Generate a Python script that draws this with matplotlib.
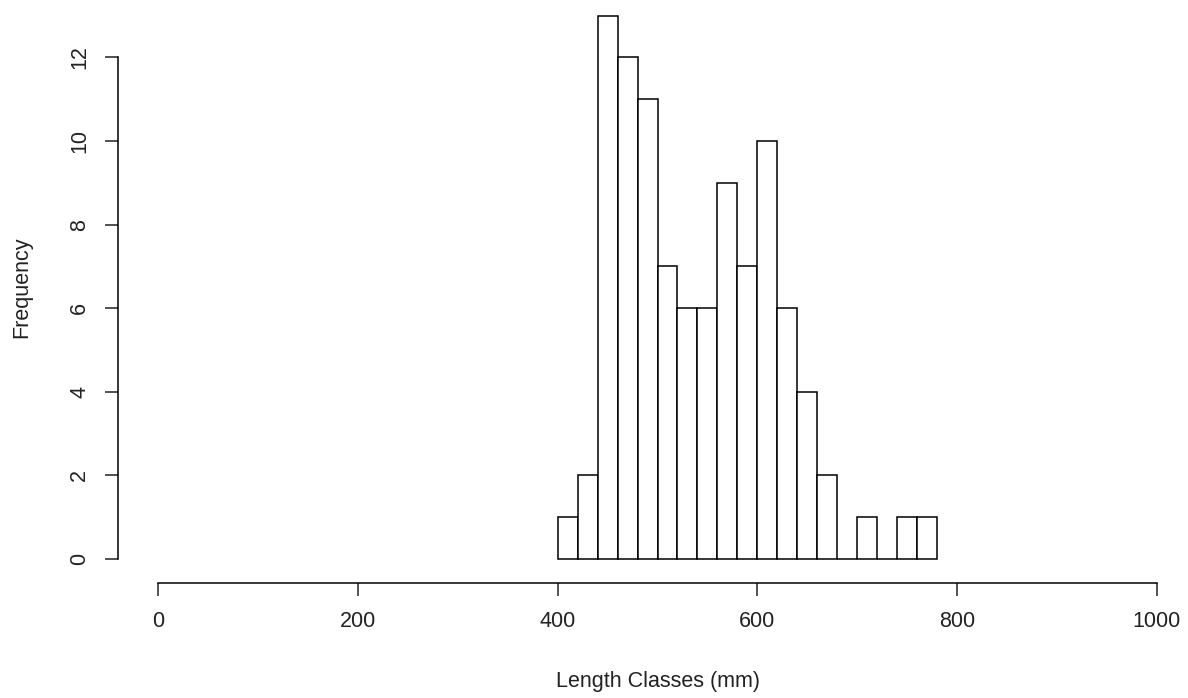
import matplotlib
matplotlib.use('Agg')
import matplotlib.pyplot as plt

# length classes (mm), 20 mm bins, and counts per class
bin_edges = list(range(400, 800, 20))
counts = [1, 2, 13, 12, 11, 7, 6, 6, 9, 7, 10, 6, 4, 2, 0, 1, 0, 1, 1]
x_ticks = [0, 200, 400, 600, 800, 1000]
y_ticks = [0, 2, 4, 6, 8, 10, 12]

plt.rcParams['font.family'] = ['Liberation Sans', 'DejaVu Sans']

W, H = 1188, 698
fig = plt.figure(figsize=(W / 100, H / 100), dpi=100)

# R-style plot region: left edge is the y axis line, bottom edge the x axis line
left_px, bottom_px = 118, 583
ax = fig.add_axes([left_px / W, (H - bottom_px) / H, (W - left_px) / W, bottom_px / H])

ax.bar(bin_edges[:-1], counts, width=20, align='edge',
       color='white', edgecolor='black', linewidth=1.1)

# pixel scale: x 0 at 158 px, ~1 px per mm; y 0 at 559 px, 41.8 px per count
ax.set_xlim((left_px - 158) / 0.999, (W - 158) / 0.999)
ax.set_ylim(-(bottom_px - 559) / 41.8, 559 / 41.8)

for s in ['top', 'right']:
    ax.spines[s].set_visible(False)
ax.spines['left'].set_bounds(0, 12)
ax.spines['bottom'].set_bounds(0, 1000)
ax.spines['left'].set_linewidth(1.1)
ax.spines['bottom'].set_linewidth(1.1)

ax.set_xticks(x_ticks)
ax.set_yticks(y_ticks)
ax.tick_params(direction='out', length=9.5, width=1.1, labelsize=15.5, colors='#222222')
ax.tick_params(axis='x', pad=11)
ax.tick_params(axis='y', pad=10.5)
plt.setp(ax.get_yticklabels(), rotation=90, va='center')

ax.set_xlabel('Length Classes (mm)', fontsize=15.5, color='#222222')
ax.xaxis.set_label_coords(500, -(682 - 559) / 41.8, transform=ax.transData)
ax.xaxis.label.set_va('center')
ax.set_ylabel('Frequency', fontsize=15.5, color='#222222')
ax.yaxis.set_label_coords((22 - 158) / 0.999, 6.5, transform=ax.transData)
ax.yaxis.label.set_va('center')

fig.savefig('out.png', dpi=100)
